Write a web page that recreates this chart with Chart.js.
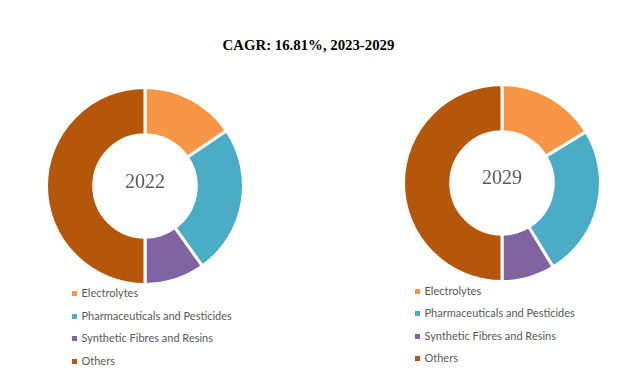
<!DOCTYPE html>
<html>
<head>
<meta charset="utf-8">
<script src="https://cdn.jsdelivr.net/npm/chart.js@4.4.0/dist/chart.umd.min.js"></script>
<style>
  html, body { margin: 0; padding: 0; background: #fff; }
  body { width: 643px; height: 378px; position: relative; overflow: hidden; }
  #title { position: absolute; left: -13px; width: 643px; top: 37px; text-align: center;
    font-family: "Liberation Serif", "DejaVu Serif", serif; font-weight: bold; font-size: 14.8px; color: #000; }
  .wrap { position: absolute; width: 200px; height: 200px; }
  .legend { position: absolute; font-family: Lato, "Open Sans", sans-serif; font-size: 11px; color: #595959; }
  .legend div { position: absolute; white-space: nowrap; height: 14px; line-height: 14px; }
  .legend span.sw { position: absolute; left: 0; top: 5px; width: 5px; height: 5px; }
  .legend span.tx { position: absolute; left: 9.5px; top: 0; }
</style>
</head>
<body>
<div id="title"></div>
<div class="wrap" style="left:44.5px; top:86px;"><canvas id="c1" width="200" height="200"></canvas></div>
<div class="wrap" style="left:401.5px; top:83px;"><canvas id="c2" width="200" height="200"></canvas></div>
<div class="legend" id="lg1" style="left:72px; top:286px;"></div>
<div class="legend" id="lg2" style="left:415px; top:284px;"></div>
<script>
const titleText = "CAGR: 16.81%, 2023-2029";
const categories = ["Electrolytes", "Pharmaceuticals and Pesticides", "Synthetic Fibres and Resins", "Others"];
const years = ["2022", "2029"];
const values2022 = [15.5, 24.6, 9.9, 50.0];
const values2029 = [16.3, 25.0, 8.7, 50.0];
const colors = ["#F79646", "#4BACC6", "#8064A2", "#B5570A"];

document.getElementById('title').textContent = titleText;

function centerText(label, dy) {
  return {
    id: 'centerText',
    afterDraw(chart) {
      const meta = chart.getDatasetMeta(0);
      const arc = meta.data[0];
      const ctx = chart.ctx;
      ctx.save();
      ctx.font = '20px "Liberation Serif", serif';
      ctx.fillStyle = '#595959';
      ctx.textAlign = 'center';
      ctx.textBaseline = 'alphabetic';
      ctx.fillText(label, arc.x, arc.y + dy);
      ctx.restore();
    }
  };
}

function makeChart(id, values, label, dy) {
  new Chart(document.getElementById(id), {
    type: 'doughnut',
    data: {
      labels: categories,
      datasets: [{ data: values, backgroundColor: colors, borderColor: '#ffffff', borderWidth: 3 }]
    },
    options: {
      responsive: false,
      animation: false,
      cutout: '52%',
      layout: { padding: 0 },
      plugins: { legend: { display: false }, tooltip: { enabled: false } }
    },
    plugins: [centerText(label, dy)]
  });
}

makeChart('c1', values2022, years[0], 2);
makeChart('c2', values2029, years[1], 0.5);

function makeLegend(id, step) {
  const el = document.getElementById(id);
  categories.forEach((c, i) => {
    const d = document.createElement('div');
    d.style.top = (i * step) + 'px';
    d.style.left = '0px';
    const sw = document.createElement('span');
    sw.className = 'sw';
    sw.style.background = colors[i];
    const tx = document.createElement('span');
    tx.className = 'tx';
    tx.textContent = c;
    d.appendChild(sw); d.appendChild(tx);
    el.appendChild(d);
  });
}
makeLegend('lg1', 22.5);
makeLegend('lg2', 22.4);
</script>
</body>
</html>
